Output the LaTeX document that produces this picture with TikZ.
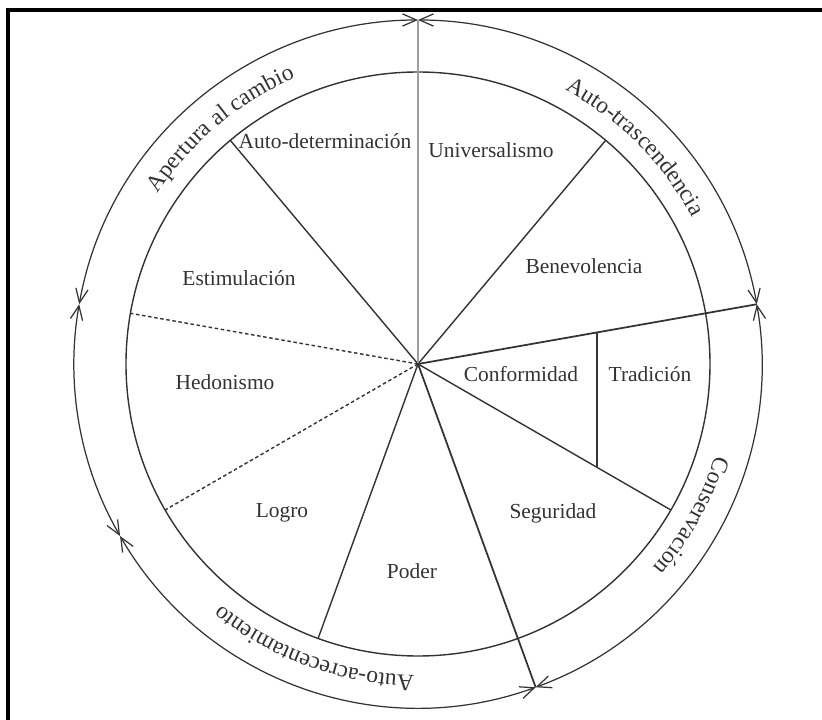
\documentclass[tikz,border=0pt]{standalone}
\usepackage{fontspec}
\setmainfont{Liberation Serif}
\usetikzlibrary{arrows.meta, decorations.text}

\definecolor{ink}{gray}{0.2}
\definecolor{faint}{gray}{0.62}

\tikzset{
  sector/.style={font=\fontsize{12.2}{14}\selectfont, text=ink},
  spoke/.style={ink, line width=0.8pt},
  ring/.style={ink, line width=0.8pt},
  sweep/.style={ink, line width=0.7pt,
    {Straight Barb[length=8pt,width=7pt]}-{Straight Barb[length=8pt,width=7pt]}},
  ringtext/.style={decorate, decoration={text along path, text align=center,
    text color=ink, text={|\fontsize{13.4}{15}\selectfont|#1}}},
}

\begin{document}
\begin{tikzpicture}[x=0.02cm, y=0.02cm]
  \useasboundingbox (-418,-356) rectangle (404,364);
  % Frame
  \draw[line width=0.08cm] (-410,-356) -- (-410,354) -- (404,354);
  % Centre and radii
  \coordinate (c) at (0,0);
  \def\rin{292}
  \def\rout{344}
  \def\rtxt{311}
  % Inner circle
  \draw[ring] (c) circle[radius=\rin];
  % Outer arcs
  \draw[sweep] (10:\rout) arc[start angle=10, end angle=90, radius=\rout];
  \draw[sweep] (90:\rout) arc[start angle=90, end angle=170, radius=\rout];
  \draw[sweep] (170:\rout) arc[start angle=170, end angle=210, radius=\rout];
  \draw[sweep] (210:\rout) arc[start angle=210, end angle=290, radius=\rout];
  \draw[sweep] (290:\rout) arc[start angle=290, end angle=370, radius=\rout];
  % Spokes
  \foreach \a in {130,50,-30,250}
    \draw[spoke] (c) -- (\a:\rin);
  \draw[spoke, faint] (c) -- (90:\rout);
  \draw[spoke, line width=1pt] (c) -- (10:\rout);
  \draw[spoke, line width=1pt] (c) -- (-70:\rout);
  \foreach \a in {170,210}
    \draw[spoke, dash pattern=on 2pt off 1.5pt] (c) -- (\a:\rin);
  % Divider between Conformidad and Tradicion
  \coordinate (trtop) at (179,{179*tan(10)});
  \coordinate (trbot) at (179,{-179*tan(30)});
  \draw[spoke] (trtop) -- (trbot);
  % Value labels
  \node[sector] (autodet) at (-93,223) {Auto-determinación};
  \node[sector] (univ) at (73,214) {Universalismo};
  \node[sector] (benev) at (166,98) {Benevolencia};
  \node[sector] (estim) at (-179,86) {Estimulación};
  \node[sector] (hedon) at (-193,-18) {Hedonismo};
  \node[sector] (conf) at (103,-10) {Conformidad};
  \node[sector] (trad) at (232,-10) {Tradición};
  \node[sector] (logro) at (-136,-149) {Logro};
  \node[sector] (segur) at (135,-149) {Seguridad};
  \node[sector] (poder) at (-6,-207) {Poder};
  % Ring labels
  \path[ringtext=Apertura al cambio] (170:\rtxt) arc[start angle=170, end angle=90, radius=\rtxt];
  \path[ringtext=Auto-trascendencia] (85:\rtxt) arc[start angle=85, end angle=5, radius=\rtxt];
  \path[ringtext=Conservación] (11:\rtxt) arc[start angle=11, end angle=-69, radius=\rtxt];
  \path[ringtext=Auto-acrecentamiento] (290:\rtxt) arc[start angle=290, end angle=210, radius=\rtxt];
\end{tikzpicture}
\end{document}
